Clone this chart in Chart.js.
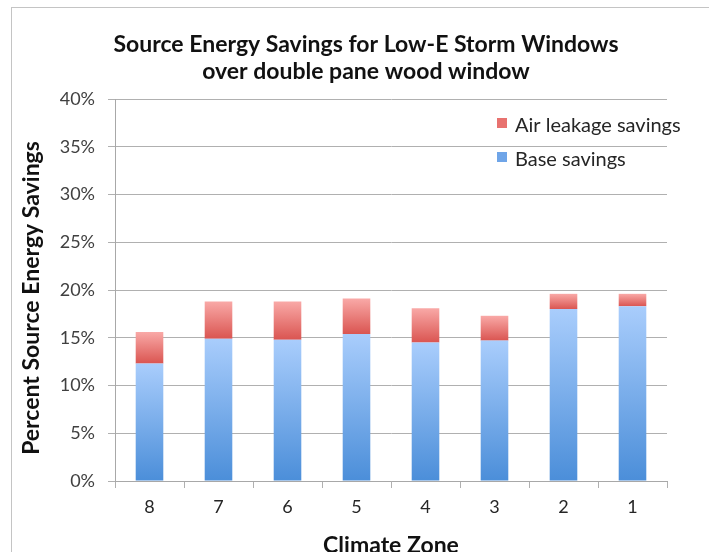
<!DOCTYPE html>
<html>
<head>
<meta charset="utf-8">
<script src="https://cdn.jsdelivr.net/npm/chart.js@4/dist/chart.umd.min.js"></script>
<style>
  html, body { margin: 0; padding: 0; background: #fff; overflow: hidden; }
  #wrap { position: relative; width: 709px; height: 552px; overflow: hidden; }
  #frame { position: absolute; left: 11px; top: 7px; right: 0; bottom: 0;
           border-left: 1.5px solid #c4c4c4; border-top: 1.5px solid #c4c4c4; }
  canvas { position: absolute; left: 0; top: 0; }
</style>
</head>
<body>
<div id="wrap">
  <div id="frame"></div>
  <canvas id="chart" width="709" height="552"></canvas>
</div>
<script>
// Climate zones, coldest (8) to warmest (1)
const zones = ['8', '7', '6', '5', '4', '3', '2', '1'];
// Percent source energy savings
const baseSavings = [12.3, 14.9, 14.8, 15.4, 14.5, 14.7, 18.0, 18.3];
const airLeakageSavings = [3.3, 3.9, 4.0, 3.7, 3.6, 2.6, 1.6, 1.3];
const yTicks = [0, 5, 10, 15, 20, 25, 30, 35, 40];

const chartTitle = ['Source Energy Savings for Low-E Storm Windows', 'over double pane wood window'];
const xTitle = 'Climate Zone';
const yTitle = 'Percent Source Energy Savings';

const FONT = "Lato, 'Open Sans', sans-serif";

// Vertical gradient spanning each stacked segment, light at top, dark at bottom
function segmentGradient(light, dark) {
  return (ctx) => {
    const chart = ctx.chart;
    if (ctx.type !== 'data' || !chart.scales || !chart.scales.y) return dark;
    const y = chart.scales.y;
    let start = 0;
    for (let i = 0; i < ctx.datasetIndex; i++) start += chart.data.datasets[i].data[ctx.dataIndex];
    const end = start + ctx.raw;
    const yBottom = y.getPixelForValue(start);
    const yTop = y.getPixelForValue(end);
    if (!isFinite(yBottom) || !isFinite(yTop) || yBottom === yTop) return dark;
    const g = chart.ctx.createLinearGradient(0, yTop, 0, yBottom);
    g.addColorStop(0, light);
    g.addColorStop(1, dark);
    return g;
  };
}

// Chart heading and axis titles, placed relative to the frame
const headings = {
  id: 'headings',
  afterDraw(chart) {
    const c = chart.ctx;
    const area = chart.chartArea;
    c.save();
    c.fillStyle = '#111';
    c.font = "bold 23px " + FONT;
    c.textAlign = 'center';
    c.textBaseline = 'middle';
    chartTitle.forEach((line, i) => c.fillText(line, 366, 45 + i * 27));

    c.textBaseline = 'alphabetic';
    c.fillText(xTitle, (area.left + area.right) / 2, 553);

    c.translate(39, 298);
    c.rotate(-Math.PI / 2);
    c.fillText(yTitle, 0, 0);
    c.restore();
  }
};

// Legend drawn inside the plot area, top item = top series
const insideLegend = {
  id: 'insideLegend',
  afterDraw(chart) {
    const c = chart.ctx;
    const items = [
      { label: chart.data.datasets[1].label, color: '#e8726f' },
      { label: chart.data.datasets[0].label, color: '#6fa5e8' }
    ];
    c.save();
    c.font = "20px " + FONT;
    c.textBaseline = 'middle';
    c.textAlign = 'left';
    items.forEach((it, i) => {
      const cy = 126 + i * 34;
      c.fillStyle = it.color;
      c.fillRect(497, cy - 8, 10, 10);
      c.fillStyle = '#262626';
      c.fillText(it.label, 515, cy);
    });
    c.restore();
  }
};

new Chart(document.getElementById('chart'), {
  type: 'bar',
  data: {
    labels: zones,
    datasets: [
      {
        label: 'Base savings',
        data: baseSavings,
        backgroundColor: segmentGradient('#a9cdfc', '#4b8ed9'),
        borderWidth: 0,
        barPercentage: 0.4,
        categoryPercentage: 1
      },
      {
        label: 'Air leakage savings',
        data: airLeakageSavings,
        backgroundColor: segmentGradient('#f9a9a7', '#da5551'),
        borderWidth: 0,
        barPercentage: 0.4,
        categoryPercentage: 1
      }
    ]
  },
  options: {
    responsive: false,
    animation: false,
    layout: { padding: { left: 0, right: 42, top: 99, bottom: 0 } },
    plugins: {
      legend: { display: false },
      tooltip: { enabled: false },
      title: { display: false }
    },
    scales: {
      x: {
        stacked: true,
        grid: { display: true, offset: true, drawOnChartArea: false, drawTicks: true, tickLength: 7, color: '#b0b0b0' },
        border: { display: true, color: '#a8a8a8', width: 1 },
        ticks: { color: '#262626', font: { family: FONT, size: 18 }, padding: 8 },
        afterFit(scale) { scale.height = 71; }
      },
      y: {
        stacked: true,
        min: 0, max: 40,
        afterBuildTicks(scale) { scale.ticks = yTicks.map(v => ({ value: v })); },
        grid: { color: '#b0b0b0', lineWidth: 1, tickLength: 7 },
        border: { display: true, color: '#a8a8a8', width: 1 },
        ticks: {
          color: '#404040', font: { family: FONT, size: 18 }, padding: 13,
          callback: v => v + '%'
        },
        afterFit(scale) { scale.width = 115; }
      }
    }
  },
  plugins: [headings, insideLegend]
});
</script>
</body>
</html>
